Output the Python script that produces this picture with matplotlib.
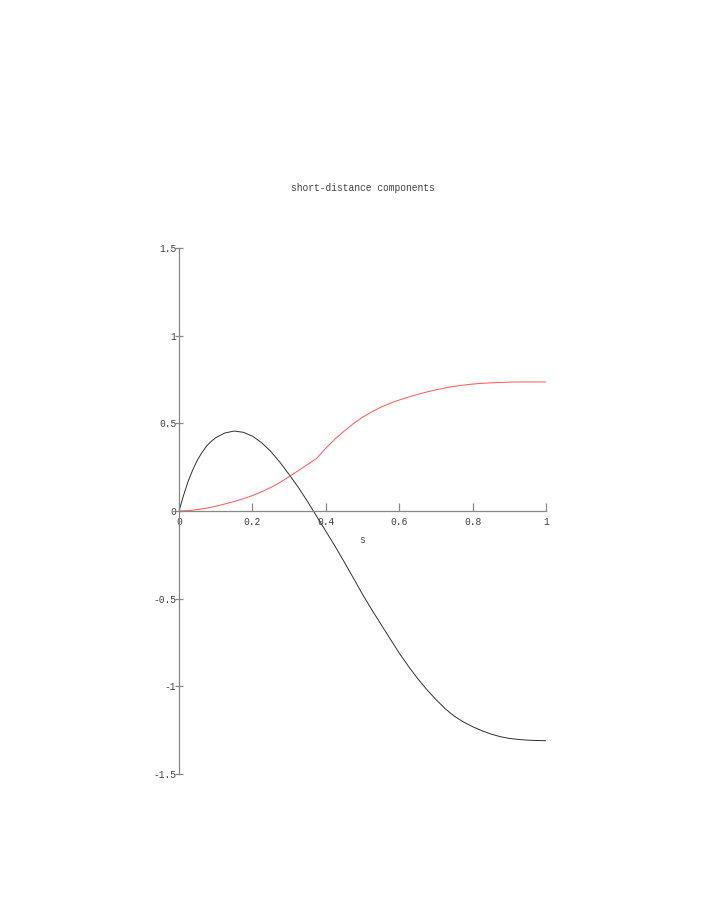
import matplotlib
matplotlib.use("Agg")
import matplotlib.pyplot as plt

title = "short-distance components"
x_label = "s"

s_black = [0, 0.0125, 0.025, 0.0375, 0.05, 0.0625, 0.075, 0.0875, 0.1, 0.125, 0.15, 0.175,
           0.2, 0.225, 0.25, 0.275, 0.3, 0.325, 0.35, 0.375, 0.4, 0.425, 0.45, 0.475,
           0.5, 0.525, 0.55, 0.575, 0.6, 0.625, 0.65, 0.675, 0.7, 0.725, 0.75, 0.775,
           0.8, 0.825, 0.85, 0.875, 0.9, 0.925, 0.95, 0.975, 1.0]
v_black = [0, 0.09, 0.17, 0.235, 0.29, 0.333, 0.37, 0.397, 0.418, 0.445, 0.456, 0.449,
           0.427, 0.39, 0.34, 0.278, 0.208, 0.135, 0.055, -0.03, -0.115, -0.2, -0.29, -0.382,
           -0.475, -0.562, -0.645, -0.728, -0.81, -0.885, -0.955, -1.018, -1.075, -1.127, -1.17, -1.203,
           -1.23, -1.253, -1.272, -1.287, -1.297, -1.303, -1.307, -1.309, -1.31]

s_red = [0, 0.025, 0.05, 0.075, 0.1, 0.125, 0.15, 0.175, 0.2, 0.225, 0.25, 0.275,
         0.3, 0.325, 0.35, 0.375, 0.4, 0.425, 0.45, 0.475, 0.5, 0.525, 0.55, 0.575,
         0.6, 0.625, 0.65, 0.675, 0.7, 0.725, 0.75, 0.775, 0.8, 0.825, 0.85, 0.875,
         0.9, 0.925, 0.95, 0.975, 1.0]
v_red = [0, 0.002, 0.008, 0.016, 0.027, 0.04, 0.054, 0.07, 0.088, 0.11, 0.134, 0.163,
         0.196, 0.23, 0.265, 0.3, 0.358, 0.41, 0.456, 0.498, 0.535, 0.565, 0.592, 0.614,
         0.633, 0.65, 0.665, 0.679, 0.691, 0.702, 0.711, 0.718, 0.724, 0.728, 0.731, 0.733,
         0.735, 0.736, 0.736, 0.736, 0.736]

x_ticks = [0, 0.2, 0.4, 0.6, 0.8, 1]
x_ticklabels = ["0", "0.2", "0.4", "0.6", "0.8", "1"]
y_ticks = [-1.5, -1, -0.5, 0, 0.5, 1, 1.5]
y_ticklabels = ["-1.5", "-1", "-0.5", "0", "0.5", "1", "1.5"]

mono = "Liberation Mono"
axis_color = "#888888"
text_color = "#404040"
fs = 6.9

fig = plt.figure(figsize=(7.08, 9.17), dpi=100)
ax = fig.add_axes([179/708, 1 - 774/917, 367/708, 526/917])

ax.plot(s_black, v_black, color="#303030", lw=0.7)
ax.plot(s_red, v_red, color="#ff5555", lw=0.7)

ax.set_xlim(0, 1)
ax.set_ylim(-1.5, 1.5)

for side in ["top", "right"]:
    ax.spines[side].set_visible(False)
ax.spines["bottom"].set_position(("data", 0))
ax.spines["left"].set_position(("data", 0))
for side in ["bottom", "left"]:
    ax.spines[side].set_color(axis_color)
    ax.spines[side].set_linewidth(0.9)

ax.set_xticks(x_ticks)
ax.set_xticklabels(x_ticklabels, fontfamily=mono, fontsize=fs, color=text_color)
ax.set_yticks(y_ticks)
ax.set_yticklabels(y_ticklabels, fontfamily=mono, fontsize=fs, color=text_color)
ax.tick_params(axis="x", direction="in", length=6, width=0.9, color=axis_color, pad=4)
ax.tick_params(axis="y", direction="inout", length=6, width=0.9, color=axis_color, pad=-1)

ax.text(0.5, -0.165, x_label, fontfamily=mono, fontsize=fs, color=text_color,
        ha="center", va="center", transform=ax.transData)
fig.text(362.5/708, 1 - 188/917, title, fontfamily=mono, fontsize=fs, color=text_color,
         ha="center", va="center")

fig.savefig("out.png", dpi=100)
